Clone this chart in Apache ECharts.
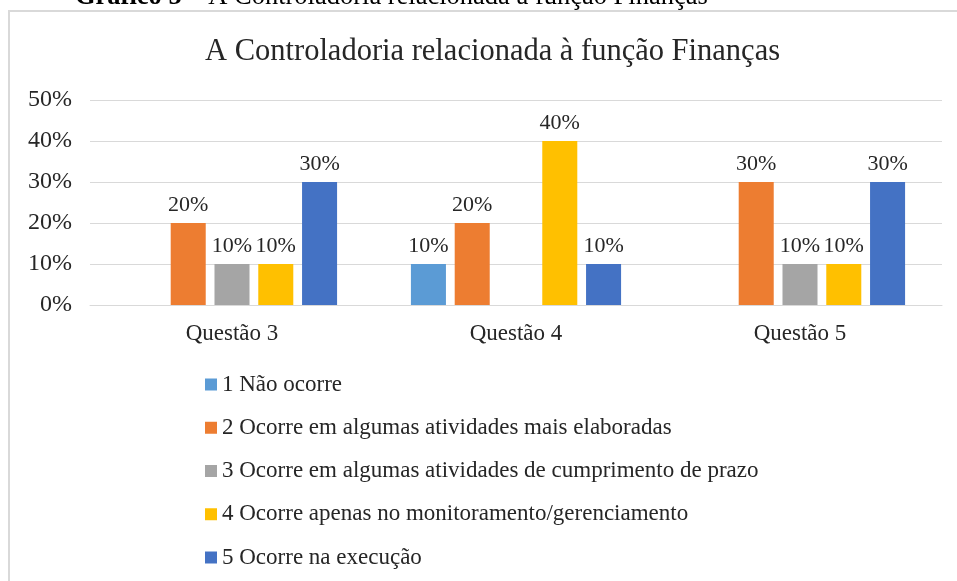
<!DOCTYPE html>
<html lang="pt">

<head>
  <meta charset="UTF-8">
  <title>A Controladoria relacionada à função Finanças</title>
  <script src="https://cdn.jsdelivr.net/npm/echarts@6/dist/echarts.min.js"></script>
  <style>
    html, body { margin: 0; padding: 0; background: #fff; }
    #chart { width: 957px; height: 581px; }
  </style>
</head>

<body>
  <div id="chart"></div>
  <script>
    // dados do gráfico
    var categorias = ['Questão 3', 'Questão 4', 'Questão 5'];
    var nomesSeries = [
      '1 Não ocorre',
      '2 Ocorre em algumas atividades mais elaboradas',
      '3 Ocorre em algumas atividades de cumprimento de prazo',
      '4 Ocorre apenas no monitoramento/gerenciamento',
      '5 Ocorre na execução'
    ];
    var naoOcorre = [null, 10, null];
    var ocorreElaboradas = [20, 20, 30];
    var ocorrePrazo = [10, null, 10];
    var ocorreMonitoramento = [10, 40, 10];
    var ocorreExecucao = [30, 10, 30];
    var ticksY = [0, 10, 20, 30, 40, 50];

    var cores = ['#5B9BD5', '#ED7D31', '#A5A5A5', '#FFC000', '#4472C4'];
    var fonte = '"Liberation Serif", "DejaVu Serif", serif';
    var corTexto = '#262626';

    var valores = [naoOcorre, ocorreElaboradas, ocorrePrazo, ocorreMonitoramento, ocorreExecucao];

    var series = valores.map(function (dados, i) {
      return {
        name: nomesSeries[i],
        type: 'bar',
        data: dados,
        barGap: '25%',
        barCategoryGap: '26%',
        itemStyle: { color: cores[i] },
        label: {
          show: true,
          position: 'top',
          distance: 7,
          formatter: '{c}%',
          fontFamily: fonte,
          fontSize: 22,
          color: corTexto
        }
      };
    });

    var chart = echarts.init(document.getElementById('chart'));
    chart.setOption({
      animation: false,
      textStyle: { fontFamily: fonte },
      title: {
        text: 'A Controladoria relacionada à função Finanças',
        left: 200,
        top: 31,
        textStyle: { fontFamily: fonte, fontSize: 30.5, fontWeight: 'normal', color: corTexto }
      },
      graphic: [
        {
          type: 'rect',
          shape: { x: 9, y: 11, width: 980, height: 600 },
          style: { fill: 'none', stroke: '#d9d9d9', lineWidth: 2 },
          silent: true
        },
        {
          type: 'text',
          left: 75,
          top: -16,
          style: {
            text: '{b|Gráfico 5} – A Controladoria relacionada à função Finanças',
            fontFamily: fonte,
            fontSize: 26.5,
            fill: '#000',
            rich: { b: { fontWeight: 'bold', fontFamily: fonte, fontSize: 26.5 } }
          }
        }
      ],
      grid: { left: 90, right: 15, top: 100, bottom: 276 },
      legend: {
        orient: 'vertical',
        left: 205,
        top: 373,
        height: 300,
        padding: 0,
        itemWidth: 12,
        itemHeight: 12,
        itemGap: 20.25,
        itemTextGap: 4,
        icon: 'rect',
        data: nomesSeries,
        textStyle: { fontFamily: fonte, fontSize: 23, color: corTexto }
      },
      xAxis: {
        type: 'category',
        data: categorias,
        axisLine: { lineStyle: { color: '#d9d9d9' } },
        axisTick: { show: false },
        axisLabel: { fontFamily: fonte, fontSize: 23, color: corTexto, margin: 17 }
      },
      yAxis: {
        type: 'value',
        min: ticksY[0],
        max: ticksY[ticksY.length - 1],
        interval: 10,
        axisLine: { show: false },
        axisTick: { show: false },
        splitLine: { lineStyle: { color: '#d9d9d9' } },
        axisLabel: { fontFamily: fonte, fontSize: 24, color: corTexto, margin: 18, formatter: '{value}%' }
      },
      series: series
    });
  </script>
</body>

</html>
